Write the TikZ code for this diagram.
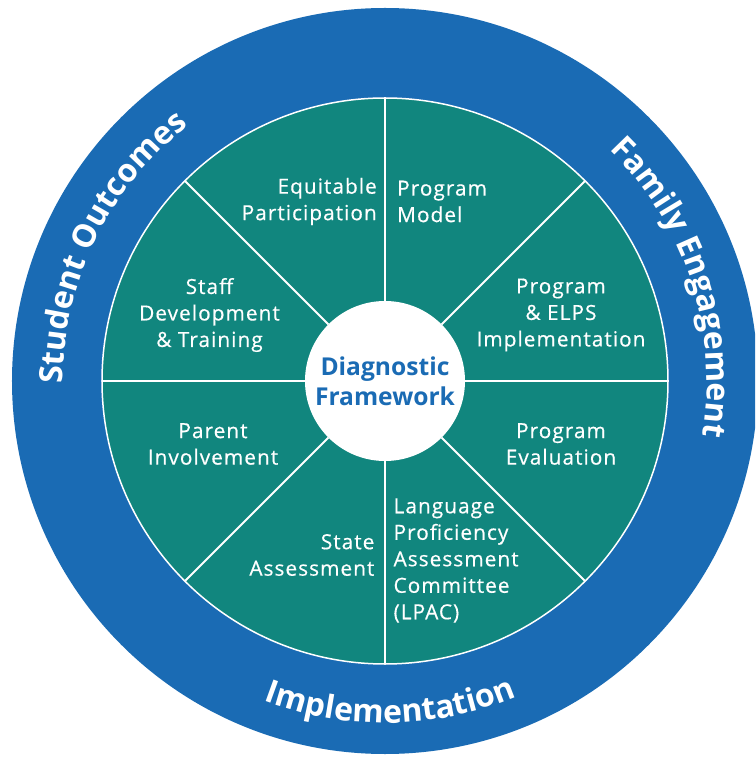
\documentclass[tikz,border=0pt]{standalone}
\usepackage{fontspec}
\setmainfont{Open Sans}
\newfontfamily\labelfont{Open Sans}[LetterSpace=5, FakeBold=0.5]
\usetikzlibrary{decorations.text}
\definecolor{ringblue}{RGB}{26,107,180}
\definecolor{wheelteal}{RGB}{17,134,126}
\tikzset{
	segtext/.style={text=white, inner sep=0pt, font=\labelfont\fontsize{20.8}{26.5}\selectfont},
	ringtext/.style={decorate, decoration={text along path, text align=center, text color=white, text={#1}}}
}
\begin{document}
\begin{tikzpicture}[x=1pt, y=1pt]
		%%%%% START %%%%%
		
		\useasboundingbox (-385, -376) rectangle (370, 381);
		\clip (-385, -376) rectangle (370, 381);
		
		\fill[ringblue] (0, 0) circle (373);
		\draw[fill=wheelteal, draw=white, line width=1.5] (0, 0) circle (283);
		
		\node[circle, fill=white, minimum size=160, inner sep=0pt, outer sep=0pt, align=center, text=ringblue, font=\bfseries\fontsize{24.6}{30}\selectfont] (hub) at (0, 0) {Diagnostic\\Framework};
		\foreach \a in {0, 45, ..., 315}
			\draw[white, line width=1.8] (hub.\a) -- (\a:283);
		
		\node[segtext, anchor=east, align=right] (equit) at (-8, 179.5) {Equitable\\Participation};
		\node[segtext, anchor=west, align=left] (model) at (12, 179.5) {Program\\Model};
		\node[segtext, align=center] (staff) at (-175.5, 66) {Staff\\Development\\\& Training};
		\node[segtext, align=center] (elps) at (176, 66) {Program\\\& ELPS\\Implementation};
		\node[segtext, align=center] (parent) at (-172, -63) {Parent\\Involvement};
		\node[segtext, align=center] (evalu) at (176, -63) {Program\\Evaluation};
		\node[segtext, anchor=east, align=right] (state) at (-10.4, -174) {State\\Assessment};
		\node[segtext, anchor=west, align=left] (lpac) at (8.4, -179.5) {Language\\Proficiency\\Assessment\\Committee\\(LPAC)};
		
		\path[ringtext={|\bfseries\fontsize{32}{32}\selectfont|Student Outcomes}] (204:322) arc[start angle=204, end angle=104, radius=322];
		\path[ringtext={|\bfseries\fontsize{32}{32}\selectfont|Family Engagement}] (68:322) arc[start angle=68, end angle=-32, radius=322];
		\path[ringtext={|\bfseries\fontsize{32}{32}\selectfont|Implementation}] (221:342) arc[start angle=221, end angle=321, radius=342];
		
		%%%%% END %%%%%
	\end{tikzpicture}
\end{document}
